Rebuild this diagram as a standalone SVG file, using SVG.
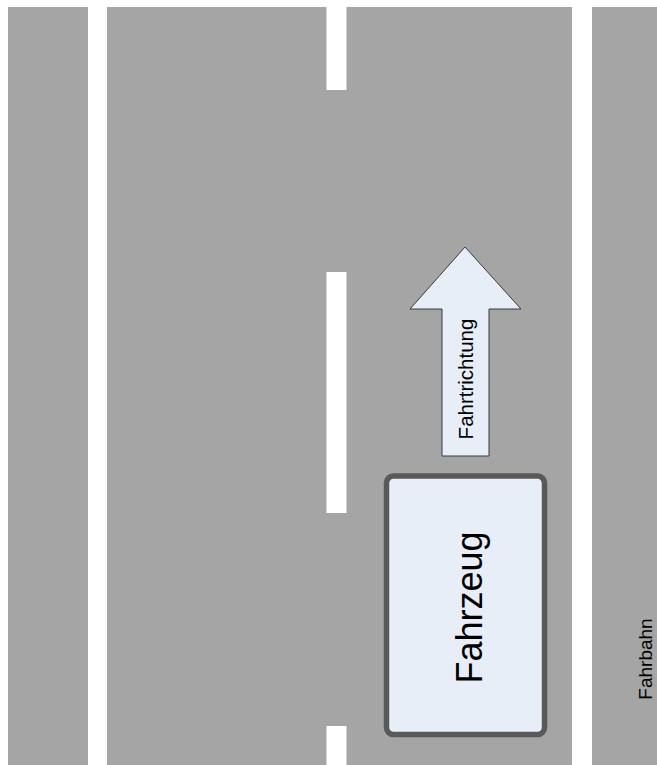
<svg xmlns="http://www.w3.org/2000/svg" width="657" height="765" viewBox="0 0 657 765">
<style>
.road{fill:#a5a5a5}
.mark{fill:#ffffff}
.lbl{font-family:"Liberation Sans",Arial,sans-serif;fill:#000000}
</style>
<rect width="657" height="765" fill="#ffffff"/>
<g id="fahrbahn">
<rect class="road" x="8" y="7" width="649" height="758"/>
<rect class="mark" x="88" y="7" width="19" height="758"/>
<rect class="mark" x="572" y="7" width="20" height="758"/>
<rect class="mark" x="326.5" y="7" width="20" height="83"/>
<rect class="mark" x="326.5" y="272" width="20" height="241"/>
<rect class="mark" x="326.5" y="726" width="20" height="39"/>
<text class="lbl" font-size="19" text-anchor="middle" transform="translate(652,659) rotate(-90)">Fahrbahn</text>
</g>
<g id="fahrtrichtung">
<polygon points="465,247 521,309 489,309 489,456 442,456 442,309 410,309" fill="#e8eef8" stroke="#3a3a3a" stroke-width="1"/>
<text class="lbl" font-size="20.5" text-anchor="middle" transform="translate(472.5,379) rotate(-90)">Fahrtrichtung</text>
</g>
<g id="fahrzeug">
<rect x="386.5" y="476" width="158" height="258.5" rx="7" fill="#e8eef8" stroke="#595959" stroke-width="5.5"/>
<text class="lbl" font-size="36" text-anchor="middle" transform="translate(482,607.5) rotate(-90)">Fahrzeug</text>
</g>
<g id="connectors"/>
</svg>
